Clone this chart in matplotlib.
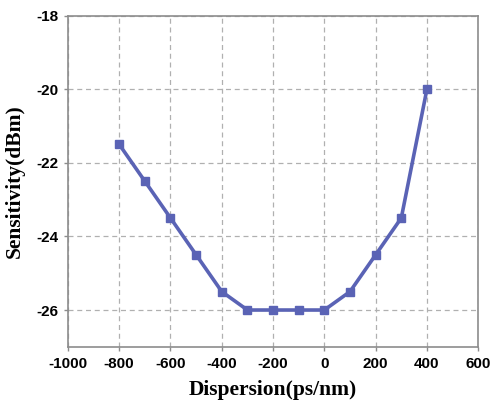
import numpy as np
import matplotlib
matplotlib.use("Agg")
import matplotlib.pyplot as plt

plt.rcParams['axes.unicode_minus'] = False

# dispersion (ps/nm) vs receiver sensitivity (dBm)
dispersion = [-800, -700, -600, -500, -400, -300, -200, -100, 0, 100, 200, 300, 400]
sensitivity = [-21.5, -22.5, -23.5, -24.5, -25.5, -26, -26, -26, -26, -25.5, -24.5, -23.5, -20]

xticks = [-1000, -800, -600, -400, -200, 0, 200, 400, 600]
yticks = [-26, -24, -22, -20, -18]

fig = plt.figure(figsize=(4.92, 4.09), dpi=100)
ax = fig.add_axes([0.138, 0.152, 0.834, 0.81])

ax.plot(dispersion, sensitivity, color='#5a63b5', lw=2.6, marker='s', ms=5.5, zorder=3)

ax.set_xlim(-1000, 600)
ax.set_ylim(-27, -18)
ax.set_xticks(xticks)
ax.set_yticks(yticks)
ax.grid(True, ls=(0, (4, 3)), color='#b0b0b0', lw=0.9)

for s in ax.spines.values():
    s.set_color('#8c8c8c')
    s.set_linewidth(1.2)
ax.tick_params(direction='out', length=3, width=1, color='#8c8c8c', pad=4)
for lab in ax.get_xticklabels() + ax.get_yticklabels():
    lab.set_fontfamily('Liberation Sans')
    lab.set_fontweight('bold')
    lab.set_fontsize(11)

ax.set_xlabel('Dispersion(ps/nm)', family='Liberation Serif', weight='bold', fontsize=15.5, labelpad=7)
ax.set_ylabel('Sensitivity(dBm)', family='Liberation Serif', weight='bold', fontsize=15.5, labelpad=8)

fig.savefig('out.png', dpi=100)
